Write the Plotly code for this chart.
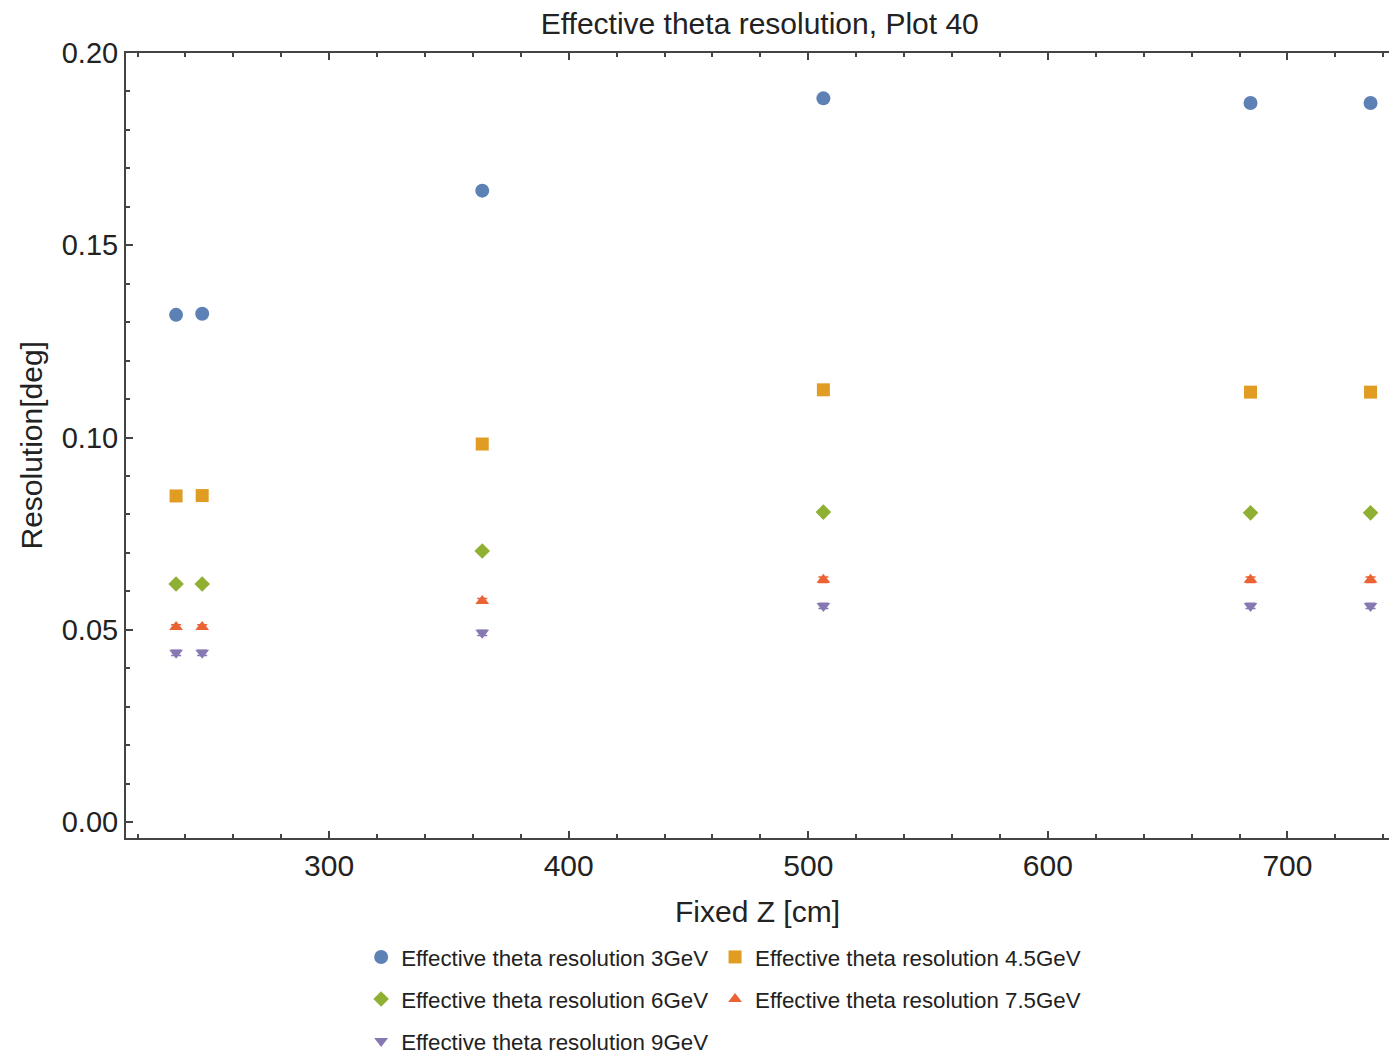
import plotly.graph_objects as go

fixed_z = [236.1, 247.0, 363.9, 506.3, 684.6, 734.7]

res_3gev = [0.1319, 0.1322, 0.1642, 0.1882, 0.1870, 0.1870]
res_4_5gev = [0.0848, 0.0849, 0.0983, 0.1124, 0.1118, 0.1118]
res_6gev = [0.0619, 0.0619, 0.0705, 0.0806, 0.0804, 0.0804]
res_7_5gev = [0.0507, 0.0507, 0.0575, 0.0630, 0.0630, 0.0630]
res_9gev = [0.0440, 0.0440, 0.0492, 0.0562, 0.0562, 0.0562]

err_3gev = [0.0004, 0.0004, 0.0006, 0.0010, 0.0010, 0.0010]
err_4_5gev = [0.0002, 0.0002, 0.0003, 0.0005, 0.0005, 0.0005]
err_6gev = [0.0002, 0.0002, 0.0003, 0.0004, 0.0004, 0.0004]
err_7_5gev = [0.0006, 0.0006, 0.0006, 0.0007, 0.0007, 0.0007]
err_9gev = [0.0007, 0.0007, 0.0007, 0.0007, 0.0007, 0.0007]

series_names = [
    "Effective theta resolution 3GeV",
    "Effective theta resolution 4.5GeV",
    "Effective theta resolution 6GeV",
    "Effective theta resolution 7.5GeV",
    "Effective theta resolution 9GeV",
]
series_values = [res_3gev, res_4_5gev, res_6gev, res_7_5gev, res_9gev]
series_errors = [err_3gev, err_4_5gev, err_6gev, err_7_5gev, err_9gev]
legend_ids = ["legend", "legend2", "legend", "legend2", "legend"]

title_text = "Effective theta resolution, Plot 40"
x_title = "Fixed Z [cm]"
y_title = "Resolution[deg]"

colors = ["#5E81B5", "#E19C24", "#8FB032", "#EB6235", "#8778B3"]
symbols = ["circle", "square", "diamond", "triangle-up", "triangle-down"]
sizes = [14, 13, 12, 12, 12]

fig = go.Figure()
for i, (name, vals, errs, c, s, sz, lg) in enumerate(
        zip(series_names, series_values, series_errors, colors, symbols, sizes, legend_ids)):
    fig.add_trace(go.Scatter(
        x=fixed_z, y=vals, mode="markers", name=name,
        legend=lg, legendgroup="g%d" % i,
        marker=dict(color=c, symbol=s, size=sz, line=dict(width=0)),
        error_y=dict(type="data", array=errs, color=c, thickness=1.5, width=5),
    ))

font_family = "Liberation Sans, Arial, sans-serif"
txt = "#222222"
legend_common = dict(orientation="v", xref="container", yref="container",
                     xanchor="left", yanchor="top", tracegroupgap=10,
                     font=dict(size=22.3, color=txt, family=font_family),
                     bgcolor="rgba(0,0,0,0)", borderwidth=0)

fig.update_layout(
    width=1389, height=1054,
    margin=dict(l=126, r=0, t=53, b=216, autoexpand=False),
    paper_bgcolor="white", plot_bgcolor="white",
    font=dict(family=font_family, color=txt, size=30),
    title=dict(text=title_text, x=0.547, xanchor="center",
               y=0.978, yanchor="middle", font=dict(size=30, color=txt)),
    showlegend=True,
    legend=dict(x=0.26, y=0.112, **legend_common),
    legend2=dict(x=0.5148, y=0.112, **legend_common),
    annotations=[dict(text=y_title, textangle=-90, xref="paper", yref="paper",
                      x=-0.0752, y=0.5, xanchor="center", yanchor="middle",
                      showarrow=False, font=dict(size=30, color=txt))],
)

fig.update_xaxes(
    range=[215.2, 742.4], showgrid=False, zeroline=False,
    showline=True, linecolor="#444444", linewidth=2, mirror="ticks",
    ticks="inside", ticklen=7, tickwidth=1.5, tickcolor="#444444",
    tickmode="array", tickvals=[300, 400, 500, 600, 700],
    minor=dict(ticks="inside", ticklen=4, tickwidth=1.5, tickcolor="#444444", dtick=20, tick0=0, showgrid=False),
    tickfont=dict(size=30, color=txt),
    title=dict(text=x_title, font=dict(size=30, color=txt), standoff=20),
)
fig.update_yaxes(
    range=[-0.00416, 0.2], showgrid=False, zeroline=False,
    showline=True, linecolor="#444444", linewidth=2, mirror=False,
    ticks="inside", ticklen=7, tickwidth=1.5, tickcolor="#444444",
    tickmode="array", tickvals=[0.0, 0.05, 0.10, 0.15, 0.20],
    ticktext=["0.00", "0.05", "0.10", "0.15", "0.20"],
    minor=dict(ticks="inside", ticklen=4, tickwidth=1.5, tickcolor="#444444", dtick=0.01, tick0=0, showgrid=False),
    tickfont=dict(size=29, color=txt),
)

fig.write_html("out.html")
